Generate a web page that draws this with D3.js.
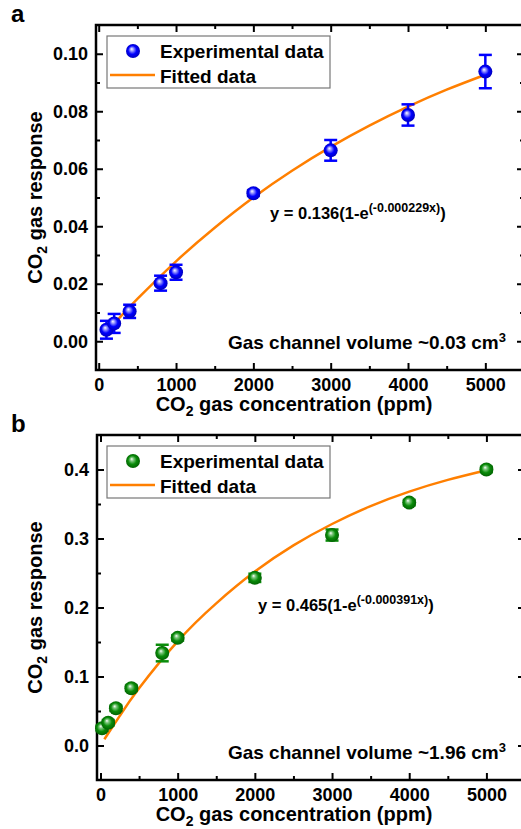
<!DOCTYPE html>
<html>
<head>
<meta charset="utf-8">
<script src="https://cdn.jsdelivr.net/npm/d3@7"></script>
<style>
body { margin: 0; background: #fff; }
text { font-family: "Liberation Sans", Arial, sans-serif; font-weight: bold; fill: #000; }
</style>
</head>
<body>
<svg width="521" height="829"></svg>
<script>
// ---- panel a : gas channel volume ~0.03 cm3
const concA = [100, 200, 400, 800, 1000, 2000, 3000, 4000, 5000];
const respA = [0.0040, 0.0062, 0.0104, 0.0202, 0.0240, 0.0515, 0.0664, 0.0787, 0.0938];
const errA  = [0.0031, 0.0033, 0.0023, 0.0026, 0.0026, 0.0010, 0.0036, 0.0037, 0.0058];
// fitted curve
const fitXA = [100, 250, 500, 1000, 1500, 2000, 2500, 3000, 3500, 4000, 4500, 5000];
const fitYA = [0.0031, 0.0076, 0.0147, 0.0278, 0.0395, 0.0500, 0.0593, 0.0676, 0.0750, 0.0816, 0.0875, 0.0927];
const yTicksA = [0.00, 0.02, 0.04, 0.06, 0.08, 0.10];

// ---- panel b : gas channel volume ~1.96 cm3
const concB = [20, 100, 200, 400, 800, 1000, 2000, 3000, 4000, 5000];
const respB = [0.025, 0.033, 0.054, 0.083, 0.134, 0.156, 0.243, 0.305, 0.352, 0.400];
const errB  = [0.004, 0.004, 0.004, 0.004, 0.012, 0.004, 0.006, 0.008, 0.004, 0.004];
const fitXB = [50, 250, 500, 1000, 1500, 2000, 2500, 3000, 3500, 4000, 4500, 5000];
const fitYB = [0.009, 0.043, 0.083, 0.151, 0.206, 0.252, 0.290, 0.321, 0.347, 0.368, 0.385, 0.399];
const yTicksB = [0.0, 0.1, 0.2, 0.3, 0.4];

const xTicks = [0, 1000, 2000, 3000, 4000, 5000];
const legendLabels = ["Experimental data", "Fitted data"];

const svg = d3.select("svg");
const defs = svg.append("defs");

function sphere(id, stops) {
    const grad = defs.append("radialGradient").attr("id", id)
        .attr("cx", "50%").attr("cy", "50%").attr("r", "55%")
        .attr("fx", "40%").attr("fy", "35%");
    stops.forEach(s => grad.append("stop").attr("offset", s[0]).attr("stop-color", s[1]));
}
sphere("blueBall", [["0%", "#ffffff"], ["22%", "#9a9aff"], ["55%", "#0000ff"], ["100%", "#0000b0"]]);
sphere("greenBall", [["0%", "#ffffff"], ["22%", "#80c880"], ["55%", "#0a8c0a"], ["100%", "#005a00"]]);

function drawPanel(p) {
    const x = d3.scaleLinear().domain(p.xDomain).range([p.left, p.right]);
    const y = d3.scaleLinear().domain(p.yDomain).range([p.bottom, p.top]);
    const g = svg.append("g");

    const yStep = p.yTicks[1] - p.yTicks[0];
    const xMinor = xTicks.map(d => d + 500);
    const yMinor = p.yTicks.map(d => d + yStep / 2).filter(d => d < p.yDomain[1] - 1e-9);

    // inward ticks on all four sides
    const axes = [
        [d3.axisBottom, x, xTicks, xMinor, `translate(0,${p.bottom})`, d3.format("d")],
        [d3.axisTop, x, xTicks, xMinor, `translate(0,${p.top})`, ""],
        [d3.axisLeft, y, p.yTicks, yMinor, `translate(${p.left},0)`, p.fmt],
        [d3.axisRight, y, p.yTicks, yMinor, `translate(${p.right},0)`, ""]
    ];
    axes.forEach(([fn, sc, major, minor, tr, fmt]) => {
        const a = g.append("g").attr("transform", tr)
            .call(fn(sc).tickValues(major).tickSize(-7).tickPadding(8).tickFormat(fmt));
        a.attr("font-size", 18);
        a.select(".domain").remove();
        a.selectAll("line").attr("stroke-width", 2);
        const m = g.append("g").attr("transform", tr)
            .call(fn(sc).tickValues(minor).tickSize(-4).tickFormat(""));
        m.select(".domain").remove();
        m.selectAll("line").attr("stroke-width", 2);
    });

    g.append("rect")
        .attr("x", p.left).attr("y", p.top)
        .attr("width", p.right - p.left).attr("height", p.bottom - p.top)
        .attr("fill", "none").attr("stroke", "#000").attr("stroke-width", 2.5);

    // fitted line
    g.append("path")
        .datum(p.fitX.map((d, i) => [d, p.fitY[i]]))
        .attr("fill", "none").attr("stroke", "#ff7f00").attr("stroke-width", 2.5)
        .attr("d", d3.line().x(d => x(d[0])).y(d => y(d[1])).curve(d3.curveNatural));

    // error bars
    const pts = p.conc.map((d, i) => ({ c: d, r: p.resp[i], e: p.err[i] }));
    const eb = g.append("g").attr("stroke", p.color).attr("stroke-width", 2.5);
    eb.selectAll(".v").data(pts).enter().append("line")
        .attr("x1", d => x(d.c)).attr("x2", d => x(d.c))
        .attr("y1", d => y(d.r - d.e)).attr("y2", d => y(d.r + d.e));
    [-1, 1].forEach(s => {
        eb.selectAll(".cap" + s).data(pts).enter().append("line")
            .attr("x1", d => x(d.c) - 6.5).attr("x2", d => x(d.c) + 6.5)
            .attr("y1", d => y(d.r + s * d.e)).attr("y2", d => y(d.r + s * d.e));
    });

    g.selectAll(".pt").data(pts).enter().append("circle")
        .attr("cx", d => x(d.c)).attr("cy", d => y(d.r)).attr("r", 7)
        .attr("fill", `url(#${p.ball})`);

    // legend
    const lg = g.append("g").attr("transform", `translate(107,${p.top + 11})`);
    lg.append("rect").attr("width", 223).attr("height", 52)
        .attr("fill", "#fff").attr("stroke", "#777").attr("stroke-width", 1.2);
    lg.append("circle").attr("cx", 26).attr("cy", 15).attr("r", 7).attr("fill", `url(#${p.ball})`);
    lg.append("line").attr("x1", 3).attr("x2", 48).attr("y1", 39).attr("y2", 39)
        .attr("stroke", "#ff7f00").attr("stroke-width", 2.5);
    legendLabels.forEach((t, i) => {
        lg.append("text").attr("x", 53).attr("y", 22 + i * 24.5)
            .attr("font-size", 19).text(t);
    });

    // equation
    const eq = g.append("text").attr("x", p.eqX).attr("y", p.eqY).attr("font-size", 16.5);
    eq.append("tspan").text(p.eq[0]);
    eq.append("tspan").attr("font-size", 12.5).attr("dy", -7).text(p.eq[1]);
    eq.append("tspan").attr("dy", 7).text(")");

    // channel volume note
    const nt = g.append("text").attr("x", 506).attr("y", p.bottom - 21)
        .attr("text-anchor", "end").attr("font-size", 19);
    nt.append("tspan").text(p.note);
    nt.append("tspan").attr("font-size", 13).attr("dy", -7).text("3");

    // axis titles
    const xt = g.append("text").attr("x", 294).attr("y", p.bottom + 41)
        .attr("text-anchor", "middle").attr("font-size", 20);
    xt.append("tspan").text("CO");
    xt.append("tspan").attr("font-size", 14).attr("dy", 5).text("2");
    xt.append("tspan").attr("dy", -5).text(" gas concentration (ppm)");

    const yt = g.append("text")
        .attr("transform", `translate(42,${(p.top + p.bottom) / 2}) rotate(-90)`)
        .attr("text-anchor", "middle").attr("font-size", 20);
    yt.append("tspan").text("CO");
    yt.append("tspan").attr("font-size", 14).attr("dy", 5).text("2");
    yt.append("tspan").attr("dy", -5).text(" gas response");

    g.append("text").attr("x", 11).attr("y", p.top - 3).attr("font-size", 24).text(p.label);
}

drawPanel({
    label: "a", conc: concA, resp: respA, err: errA, fitX: fitXA, fitY: fitYA,
    yTicks: yTicksA, xDomain: [-35, 5500], yDomain: [-0.01, 0.11],
    left: 96, right: 524, top: 25, bottom: 370,
    fmt: d3.format(".2f"), color: "#0000ff", ball: "blueBall",
    eq: ["y = 0.136(1-e", "(-0.000229x)"], eqX: 270, eqY: 219,
    note: "Gas channel volume ~0.03 cm"
});

drawPanel({
    label: "b", conc: concB, resp: respB, err: errB, fitX: fitXB, fitY: fitYB,
    yTicks: yTicksB, xDomain: [-45, 5500], yDomain: [-0.05, 0.45],
    left: 97, right: 525, top: 435, bottom: 780,
    fmt: d3.format(".1f"), color: "#0a8c0a", ball: "greenBall",
    eq: ["y = 0.465(1-e", "(-0.000391x)"], eqX: 258, eqY: 611,
    note: "Gas channel volume ~1.96 cm"
});
</script>
</body>
</html>
